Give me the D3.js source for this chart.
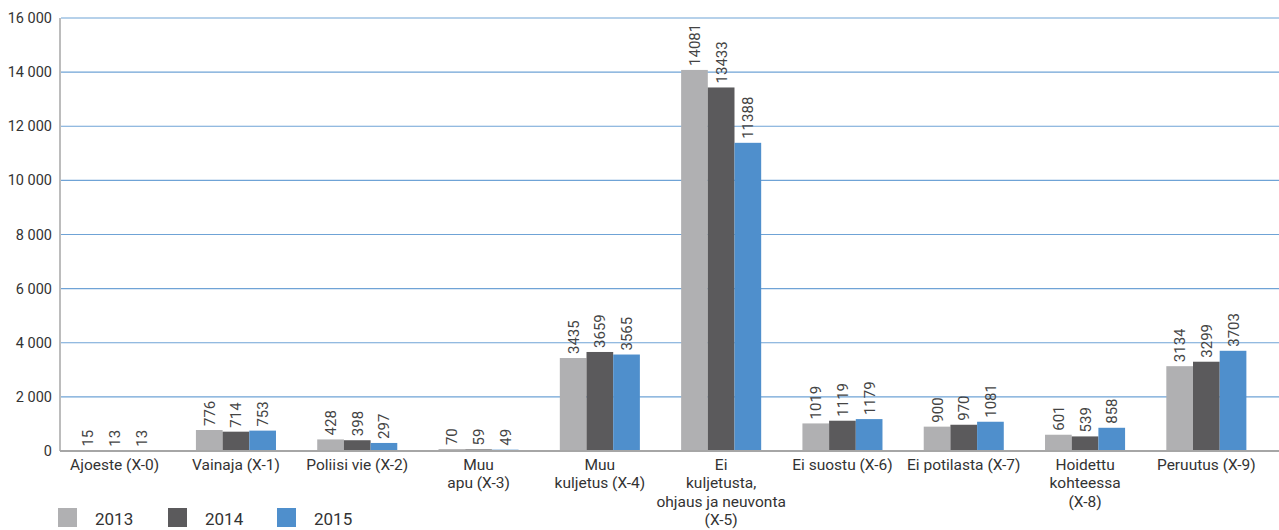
<!DOCTYPE html>
<html>
<head>
<meta charset="utf-8">
<script src="https://cdn.jsdelivr.net/npm/d3@7"></script>
<style>
  body { margin: 0; background: #fff; }
  text { font-family: Roboto, "Liberation Sans", sans-serif; }
</style>
</head>
<body>
<svg id="chart" width="1279" height="530"></svg>
<script>
// categories (lines split with \n)
const categories = [
  "Ajoeste (X-0)",
  "Vainaja (X-1)",
  "Poliisi vie (X-2)",
  "Muu\napu (X-3)",
  "Muu\nkuljetus (X-4)",
  "Ei\nkuljetusta,\nohjaus ja neuvonta\n(X-5)",
  "Ei suostu (X-6)",
  "Ei potilasta (X-7)",
  "Hoidettu\nkohteessa\n(X-8)",
  "Peruutus (X-9)"
];
const years = ["2013", "2014", "2015"];
const values2013 = [15, 776, 428, 70, 3435, 14081, 1019, 900, 601, 3134];
const values2014 = [13, 714, 398, 59, 3659, 13433, 1119, 970, 539, 3299];
const values2015 = [13, 753, 297, 49, 3565, 11388, 1179, 1081, 858, 3703];
const yTicks = [0, 2000, 4000, 6000, 8000, 10000, 12000, 14000, 16000];

const colors = { "2013": "#b0b0b2", "2014": "#5b5a5c", "2015": "#4f8fcc" };
const series = { "2013": values2013, "2014": values2014, "2015": values2015 };

const svg = d3.select("#chart");

const x0 = d3.scaleBand()
  .domain(categories)
  .range([54, 1267])
  .paddingInner(0.34)
  .paddingOuter(0.17);

const x1 = d3.scaleBand()
  .domain(years)
  .range([0, x0.bandwidth()]);

const y = d3.scaleLinear().domain([0, 16000]).range([451, 18]);

const fmt = function (d) {
  return d3.format(",")(d).replace(/,/g, " ");
};

// gridlines
svg.append("g")
  .selectAll("line")
  .data(yTicks.filter(function (d) { return d > 0; }))
  .enter()
  .append("line")
  .attr("x1", 61)
  .attr("x2", 1279)
  .attr("y1", function (d) { return y(d); })
  .attr("y2", function (d) { return y(d); })
  .attr("stroke", "#6fa3d6")
  .attr("stroke-width", 1.2);

// y axis labels
svg.append("g")
  .selectAll("text")
  .data(yTicks)
  .enter()
  .append("text")
  .attr("x", 52)
  .attr("y", function (d) { return y(d) + 5; })
  .attr("text-anchor", "end")
  .attr("font-size", 14.5)
  .attr("fill", "#333")
  .text(fmt);

// bars
const groups = svg.append("g")
  .selectAll("g")
  .data(categories)
  .enter()
  .append("g")
  .attr("transform", function (d) { return "translate(" + x0(d) + ",0)"; });

groups.selectAll("rect")
  .data(function (d, i) {
    return years.map(function (yr) { return { year: yr, value: series[yr][i] }; });
  })
  .enter()
  .append("rect")
  .attr("x", function (d) { return x1(d.year); })
  .attr("width", x1.bandwidth())
  .attr("y", function (d) { return y(d.value); })
  .attr("height", function (d) { return y(0) - y(d.value); })
  .attr("fill", function (d) { return colors[d.year]; });

// value labels (rotated)
groups.selectAll("text.val")
  .data(function (d, i) {
    return years.map(function (yr) { return { year: yr, value: series[yr][i] }; });
  })
  .enter()
  .append("text")
  .attr("class", "val")
  .attr("transform", function (d) {
    const cx = x1(d.year) + x1.bandwidth() / 2 + 5.5;
    return "translate(" + cx + "," + (y(d.value) - 4) + ") rotate(-90)";
  })
  .attr("font-size", 15)
  .attr("fill", "#444")
  .text(function (d) { return d.value; });

// axes lines
svg.append("line")
  .attr("x1", 60).attr("x2", 60)
  .attr("y1", 18).attr("y2", 451)
  .attr("stroke", "#a6a6a6").attr("stroke-width", 1.5);
svg.append("line")
  .attr("x1", 60).attr("x2", 1279)
  .attr("y1", 451).attr("y2", 451)
  .attr("stroke", "#a6a6a6").attr("stroke-width", 2);

// category labels
const catText = svg.append("g")
  .selectAll("text")
  .data(categories)
  .enter()
  .append("text")
  .attr("x", function (d) { return x0(d) + x0.bandwidth() / 2; })
  .attr("y", 470)
  .attr("text-anchor", "middle")
  .attr("font-size", 15.5)
  .attr("fill", "#333");

catText.selectAll("tspan")
  .data(function (d) { return d.split("\n"); })
  .enter()
  .append("tspan")
  .attr("x", function () { return d3.select(this.parentNode).attr("x"); })
  .attr("dy", function (d, i) { return i === 0 ? 0 : 18.3; })
  .text(function (d) { return d; });

// legend
const legendX = [58, 168, 277];
const legend = svg.append("g")
  .selectAll("g")
  .data(years)
  .enter()
  .append("g")
  .attr("transform", function (d, i) { return "translate(" + legendX[i] + ",508)"; });

legend.append("rect")
  .attr("width", 19)
  .attr("height", 19)
  .attr("fill", function (d) { return colors[d]; });

legend.append("text")
  .attr("x", 37)
  .attr("y", 17)
  .attr("font-size", 17)
  .attr("fill", "#333")
  .text(function (d) { return d; });
</script>
</body>
</html>
